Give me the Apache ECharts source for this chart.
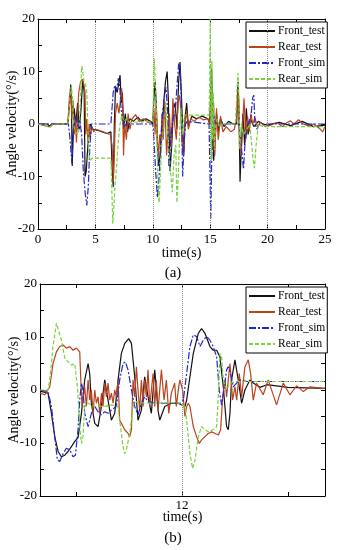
<!DOCTYPE html>
<html><head><meta charset="utf-8">
<script src="https://cdn.jsdelivr.net/npm/echarts@6/dist/echarts.min.js"></script>
<style>html,body{margin:0;padding:0;background:#fff}#c{width:347px;height:550px}</style>
</head><body><div id="c"></div>
<script>
// ---------- data (a): [time s, angle velocity deg/s] ----------
const frontTestA = [[0,0],[0.8,0],[1.0,-0.4],[1.2,0],[2.6,0],[2.75,4],[2.85,7.5],[2.92,3],[2.98,-8],[3.05,-3],[3.15,3],[3.3,0],[3.45,4],[3.6,-1],[3.75,3],[3.9,8.5],[4.02,6],[4.1,-10],[4.2,-9],[4.35,-4],[4.55,0],[4.8,-1],[5.2,-1.2],[5.6,-1.5],[6.0,-1.8],[6.35,-1.5],[6.45,-8],[6.55,-12],[6.65,0],[6.75,7],[6.9,6],[7.05,8],[7.15,9.3],[7.25,4],[7.35,6],[7.45,-1],[7.6,2],[7.8,-1.5],[8.0,1],[8.3,0.5],[8.7,1.3],[9.0,0.5],[9.4,1],[9.8,0.5],[10.0,0],[10.1,5],[10.2,8],[10.3,4],[10.4,-4],[10.5,-8],[10.65,-6],[10.8,-2],[10.95,4],[11.1,8],[11.25,10],[11.35,5],[11.5,-9],[11.65,-4],[11.8,3],[11.95,4],[12.1,-1],[12.25,8],[12.37,11.8],[12.5,5],[12.6,-1],[12.7,-6],[12.8,1],[12.95,4],[13.1,-0.5],[13.4,1.5],[13.8,1],[14.3,1.5],[14.8,1],[14.95,0],[15.05,6],[15.12,10.5],[15.2,3],[15.3,-7],[15.4,-4],[15.55,2],[15.7,-1.5],[15.9,1],[16.2,-0.5],[16.6,0.5],[17.0,0],[17.3,0],[17.42,8],[17.5,3],[17.6,-11],[17.7,-5],[17.85,2],[18.0,-4],[18.15,3],[18.3,-2],[18.5,1],[18.8,-0.5],[19.2,0.5],[19.6,0],[20,-0.2],[21,0.3],[22,-0.3],[23,0.5],[24,-0.5],[25,-0.2]];
const rearTestA = [[0,0],[0.9,-0.5],[1.1,-0.5],[1.3,0],[2.6,0],[2.75,5.5],[2.88,6.5],[2.95,1],[3.05,4.5],[3.15,-2],[3.25,1],[3.35,-3.5],[3.45,2],[3.55,6],[3.7,8],[3.85,8.5],[4.0,7.5],[4.1,6],[4.15,-2],[4.25,1],[4.35,-3.5],[4.45,0],[4.55,-2.5],[4.7,-0.5],[4.85,-1.5],[5.0,-1],[5.3,-1.2],[5.7,-1.5],[6.0,-1.8],[6.3,-2],[6.45,-4],[6.56,-11],[6.65,-6],[6.75,2],[6.9,4],[7.05,2],[7.2,5],[7.29,6.8],[7.38,3],[7.45,-6],[7.55,0],[7.7,-3],[7.85,2],[8.0,-1],[8.2,1],[8.5,1.8],[8.8,0.5],[9.2,1],[9.6,0.3],[10.0,0.5],[10.1,3],[10.2,-2],[10.3,4],[10.4,-3],[10.5,-6],[10.6,-2],[10.7,-4],[10.8,2],[10.9,-3],[11.05,4.3],[11.2,-6],[11.35,0],[11.45,2],[11.6,-4.6],[11.75,4.9],[11.9,0],[12.05,-3],[12.2,4],[12.3,5.5],[12.4,4],[12.55,-3.5],[12.65,-6],[12.8,0],[12.95,2.5],[13.1,-1],[13.3,1],[13.6,0.5],[14.0,1.3],[14.4,0.8],[14.8,1],[15.0,0],[15.1,7],[15.2,-5],[15.3,4],[15.4,-6],[15.55,3],[15.7,-3],[15.9,1.5],[16.1,-1.5],[16.4,-0.5],[16.8,-1.5],[17.1,-1],[17.3,1],[17.45,6.8],[17.55,-2],[17.7,-6],[17.85,1],[17.95,4.9],[18.1,-3],[18.25,1.5],[18.4,-1.5],[18.55,2],[18.7,0],[18.9,1.2],[19.1,-0.5],[19.4,0.3],[19.8,-0.5],[20.3,-0.2],[20.8,0.3],[21.3,-0.5],[21.7,0.3],[22.0,0.6],[22.3,0],[22.7,0.8],[23.1,0],[23.5,-0.3],[24.0,0],[24.5,-0.8],[24.8,-1.5],[25,-0.5]];
const frontSimA = [[0,0],[2.65,0],[2.75,-2],[2.85,-4.5],[2.95,-7.5],[3.05,-3],[3.2,0.5],[3.35,1.5],[3.5,-1],[3.65,0.5],[3.8,-2],[3.95,-9],[4.1,-13],[4.25,-15.5],[4.38,-12],[4.5,-5],[4.65,0],[6.35,0],[6.45,3],[6.55,6],[6.7,7.4],[6.85,6.5],[7.0,8.7],[7.1,8],[7.2,4],[7.35,0.5],[7.5,-0.5],[7.7,0],[10.0,0],[10.1,-3],[10.25,-9],[10.4,-14],[10.55,-10],[10.7,-3],[10.85,2],[11.0,5],[11.15,7],[11.3,2],[11.4,-8],[11.55,-3],[11.75,1],[11.95,2],[12.1,7],[12.25,11.5],[12.4,10],[12.5,3],[12.6,-10],[12.72,-4],[12.85,0],[13.0,0.5],[14.9,0],[14.97,-8],[15.05,-18],[15.12,-8],[15.2,0],[15.3,2],[15.45,0],[17.5,0],[17.65,-3],[17.9,-8.6],[18.05,-3],[18.3,0],[18.55,1.5],[18.7,5],[18.8,5.5],[18.9,0],[19.05,-1],[19.3,0],[25,0]];
const rearSimA = [[0,0],[0.9,-0.5],[1.1,-0.5],[1.3,0],[2.6,0],[2.7,2],[2.82,6.2],[2.9,7.1],[3.0,5],[3.1,0],[3.25,-1.5],[3.45,-2],[3.6,-1],[3.7,5],[3.8,11],[3.88,10.5],[4.0,8],[4.15,7.5],[4.25,6],[4.35,-1],[4.45,-6],[4.55,-7],[4.7,-6.5],[6.35,-6.5],[6.45,-14],[6.52,-19],[6.6,-16],[6.7,-12],[6.85,-8],[7.0,-3],[7.15,0],[7.3,1.7],[7.5,0.5],[7.7,1],[8.0,0.3],[10.0,0.5],[10.08,8],[10.12,12.5],[10.2,9],[10.3,3],[10.45,-11],[10.55,-15],[10.65,-10],[10.8,-3],[11.0,0],[11.15,4],[11.3,-2],[11.5,-8],[11.7,-13],[11.85,-6],[12.0,-4],[12.1,-15],[12.22,-10],[12.35,-1],[12.45,3],[12.6,-2],[12.75,1.7],[14.9,1.7],[14.95,8],[15.0,20],[15.05,5],[15.1,-7],[15.15,12],[15.2,-3],[15.27,6],[15.35,-5],[15.45,-1],[15.6,1],[15.8,-0.5],[16.0,0],[17.2,0],[17.32,6],[17.42,9.7],[17.5,5],[17.58,-4.8],[17.7,0],[17.9,-2],[18.2,-1],[18.45,0],[18.7,-6],[18.85,-8.4],[19.0,-4],[19.2,0],[19.6,-0.5],[25,-0.5]];

// ---------- data (b) ----------
const frontTestB = [[10.66,-0.2],[10.736,-0.6],[10.768,-4.4],[10.799,-8.8],[10.831,-11.6],[10.862,-12.6],[10.894,-12.3],[10.925,-11.6],[10.956,-10.7],[10.988,-9.7],[11.019,-9.0],[11.035,-9.1],[11.051,-4.4],[11.082,1.9],[11.114,5.0],[11.129,3.1],[11.145,-2.5],[11.177,-6.3],[11.208,-6.9],[11.24,-3.1],[11.271,1.9],[11.287,1.9],[11.302,-1.9],[11.334,-5.7],[11.365,-4.4],[11.397,1.9],[11.428,6.9],[11.46,8.8],[11.497,9.7],[11.523,8.8],[11.554,2.5],[11.585,-5.7],[11.617,-3.8],[11.648,2.5],[11.68,-1.3],[11.711,-4.4],[11.743,3.8],[11.774,-3.8],[11.79,-5.7],[11.837,-3.1],[11.9,-2.5],[11.963,-2.5],[11.981,-2.5],[12.028,-3.1],[12.044,-1.9],[12.075,2.5],[12.107,6.9],[12.154,10.7],[12.185,11.6],[12.217,10.7],[12.264,8.2],[12.295,7.5],[12.327,7.5],[12.358,6.3],[12.39,0.6],[12.421,-6.9],[12.437,-7.5],[12.453,-4.4],[12.468,1.9],[12.5,5.7],[12.531,1.9],[12.563,-2.5],[12.594,0],[12.641,1.9],[12.673,1.3],[12.736,0.5],[12.8,1],[13.0,0.5],[13.35,0.3]];
const rearTestB = [[10.66,-0.6],[10.705,-0.9],[10.752,0.6],[10.783,5.0],[10.815,7.2],[10.846,8.2],[10.878,8.5],[10.909,7.9],[10.941,8.2],[10.972,7.5],[11.004,7.9],[11.035,7.2],[11.045,1.9],[11.057,-3.1],[11.082,0.6],[11.098,-3.1],[11.114,1.9],[11.129,-1.9],[11.145,0],[11.161,-4.4],[11.177,0],[11.192,-2.5],[11.208,-1.3],[11.224,-4.4],[11.24,-0.6],[11.255,-3.1],[11.271,1.3],[11.287,-1.3],[11.302,1.3],[11.318,-1.9],[11.334,-0.6],[11.35,-2.5],[11.365,0],[11.381,-1.3],[11.397,1.9],[11.412,-5.7],[11.428,-6.3],[11.46,-7.5],[11.491,-8.2],[11.507,-8.8],[11.523,-7.5],[11.538,1.9],[11.554,-1.3],[11.57,4.4],[11.585,0],[11.601,-3.8],[11.617,1.9],[11.633,-3.1],[11.648,1.9],[11.664,-1.3],[11.68,3.8],[11.696,-3.1],[11.727,3.1],[11.743,-3.1],[11.758,1.9],[11.774,-3.8],[11.806,3.8],[11.831,-1.9],[11.853,1.9],[11.875,-4.4],[11.9,-0.6],[11.931,1.3],[11.947,-3.1],[11.969,0.6],[11.981,1.9],[12.006,0],[12.028,-5.0],[12.044,-3.1],[12.06,-2.5],[12.075,-3.1],[12.091,-5.0],[12.107,-6.9],[12.138,-8.8],[12.163,-10.1],[12.185,-9.4],[12.217,-8.8],[12.248,-8.2],[12.28,-7.9],[12.311,-8.2],[12.343,-8.5],[12.365,-7.5],[12.384,-1.3],[12.406,1.9],[12.421,-1.3],[12.437,1.9],[12.453,5.0],[12.478,-1.9],[12.5,0.6],[12.516,-1.9],[12.541,3.1],[12.563,-1.3],[12.594,4.4],[12.626,5.7],[12.648,3.1],[12.673,-1.9],[12.704,1.3],[12.767,-0.9],[12.814,1.9],[12.893,-2.8],[12.956,1.3],[13.019,-0.9],[13.082,0.8],[13.145,-0.3],[13.207,0.6],[13.333,0.3],[13.35,0.3]];
const frontSimB = [[10.66,0],[10.736,-0.3],[10.768,-3.1],[10.799,-8.8],[10.824,-13.2],[10.846,-13.5],[10.878,-12.0],[10.909,-11.0],[10.941,-11.3],[10.972,-12.6],[10.994,-12.3],[11.019,-7.5],[11.035,-1.9],[11.051,1.3],[11.066,0],[11.082,-4.4],[11.114,-6.9],[11.145,-4.4],[11.177,-3.1],[11.208,-4.1],[11.24,-4.7],[11.271,-4.1],[11.302,-4.4],[11.334,-3.8],[11.381,-3.1],[11.412,1.9],[11.444,5.0],[11.466,5.3],[11.491,3.8],[11.523,0],[11.554,-3.1],[11.585,-4.7],[11.617,-2.5],[11.648,-1.3],[11.68,-2.2],[11.774,-2.5],[11.9,-2.5],[11.981,-2.5],[12.013,-1.9],[12.044,3.1],[12.075,8.2],[12.107,10.4],[12.138,10.1],[12.17,8.2],[12.201,9.4],[12.233,10.1],[12.264,9.4],[12.295,8.2],[12.327,6.3],[12.352,0],[12.374,-2.8],[12.396,0],[12.421,3.8],[12.437,4.4],[12.459,3.1],[12.484,0.6],[12.516,1.3],[12.547,1.9],[12.61,1.6],[13.35,1.6]];
const rearSimB = [[10.66,0],[10.736,0],[10.752,1.9],[10.783,8.2],[10.815,12.6],[10.831,12.3],[10.862,9.4],[10.894,6.0],[10.925,5.3],[10.956,4.7],[10.988,5.0],[11.013,0.6],[11.035,-6.9],[11.051,-10.1],[11.066,-8.8],[11.082,-3.1],[11.114,-2.5],[11.177,-3.1],[11.271,-3.1],[11.334,-2.8],[11.397,-3.1],[11.412,-5.7],[11.444,-10.7],[11.46,-12.0],[11.475,-11.3],[11.507,-8.2],[11.538,-3.1],[11.57,-2.2],[11.648,-2.5],[11.9,-2.4],[11.981,-2.5],[12.028,-3.1],[12.044,-5.7],[12.075,-12.0],[12.1,-14.8],[12.123,-13.2],[12.154,-8.8],[12.185,-6.9],[12.217,-7.5],[12.248,-7.9],[12.295,-7.5],[12.327,-6.9],[12.343,-1.3],[12.358,6.9],[12.374,6.3],[12.39,1.9],[12.421,0],[12.453,1.3],[12.516,1.6],[13.35,1.6]];

// ---------- axes / labels ----------
const seriesNames = ['Front_test','Rear_test','Front_sim','Rear_sim'];
const xRangeA = [0, 25], xStepA = 2.5, xLabelStepA = 5;
const yRange = [-20, 20], yStep = 5, yLabelStep = 10;
const xRangeB = [10.66, 13.35];
const xTicksB = [11, 12, 13];
const xLabelsB = [12];
const dottedA = [5, 10, 15, 20];
const dottedB = [12];
const yName = 'Angle velocity(°/s)';
const xName = 'time(s)';
const panelTitles = ['(a)', '(b)'];

const FONT = 'Liberation Serif';
const colors = ['#111111', '#b8431d', '#2424d0', '#78d23c'];
const dashes = ['solid', 'solid', [7, 2, 2, 2], [4, 2]];

const grids = [
  {left: 38, right: 22, top: 19, height: 210, containLabel: false, outerBoundsMode: 'none'},
  {left: 40, right: 22, top: 284, height: 212, containLabel: false, outerBoundsMode: 'none'}
];

function frameAxisX(gi, rng, extra) {
  return Object.assign({
    type: 'value', gridIndex: gi, min: rng[0], max: rng[1],
    axisLine: {show: true, onZero: false, lineStyle: {color: '#000', width: 1}},
    axisTick: {show: true, inside: true, length: 4, lineStyle: {color: '#000'}},
    splitLine: {show: false},
    axisLabel: {show: false}
  }, extra);
}
function frameAxisY(gi, extra) {
  return Object.assign({
    type: 'value', gridIndex: gi, min: yRange[0], max: yRange[1], interval: yStep,
    axisLine: {show: true, onZero: false, lineStyle: {color: '#000', width: 1}},
    axisTick: {show: true, inside: true, length: 4, lineStyle: {color: '#000'}},
    splitLine: {show: false},
    axisLabel: {show: false}
  }, extra);
}
const yLabelCfg = {show: true, margin: 3, color: '#000', fontFamily: FONT, fontSize: 13,
  formatter: v => (v % yLabelStep === 0 ? String(v) : '')};
const yNameCfg = {name: yName, nameLocation: 'middle', nameGap: 19, nameMoveOverlap: false,
  nameTextStyle: {fontFamily: FONT, fontSize: 14, color: '#000'}};

const xAxis = [
  frameAxisX(0, xRangeA, {position: 'bottom', interval: xStepA,
    axisLabel: {show: true, margin: 4, color: '#000', fontFamily: FONT, fontSize: 13,
      formatter: v => (v % xLabelStepA === 0 ? String(v) : '')},
    name: xName, nameLocation: 'middle', nameGap: 17, nameMoveOverlap: false,
    nameTextStyle: {fontFamily: FONT, fontSize: 14, color: '#000'}}),
  frameAxisX(0, xRangeA, {position: 'top', interval: xStepA}),
  frameAxisX(1, xRangeB, {position: 'bottom',
    axisTick: {show: true, inside: true, length: 4, customValues: xTicksB, lineStyle: {color: '#000'}},
    axisLabel: {show: true, margin: 3, color: '#000', fontFamily: FONT, fontSize: 13, customValues: xLabelsB},
    name: xName, nameLocation: 'middle', nameGap: 14, nameMoveOverlap: false,
    nameTextStyle: {fontFamily: FONT, fontSize: 14, color: '#000'}}),
  frameAxisX(1, xRangeB, {position: 'top',
    axisTick: {show: true, inside: true, length: 4, customValues: xTicksB, lineStyle: {color: '#000'}}})
];
const yAxis = [
  frameAxisY(0, Object.assign({position: 'left', axisLabel: yLabelCfg}, yNameCfg)),
  frameAxisY(0, {position: 'right'}),
  frameAxisY(1, Object.assign({position: 'left', axisLabel: yLabelCfg}, yNameCfg)),
  frameAxisY(1, {position: 'right'})
];

function mkSeries(name, idx, data, xi, yi, dotted) {
  const s = {
    name: name, type: 'line', xAxisIndex: xi, yAxisIndex: yi, data: data,
    symbol: 'none', smooth: false, animation: false,
    itemStyle: {color: colors[idx]},
    lineStyle: {color: colors[idx], width: 1.2, type: dashes[idx]},
    z: 2 + idx
  };
  if (dotted) {
    s.markLine = {silent: true, symbol: 'none', label: {show: false}, animation: false,
      lineStyle: {type: 'dotted', color: '#888', width: 1},
      data: dotted.map(x => ({xAxis: x}))};
  }
  return s;
}
const dataA = [frontTestA, rearTestA, frontSimA, rearSimA];
const dataB = [frontTestB, rearTestB, frontSimB, rearSimB];
const series = [];
seriesNames.forEach((n, i) => series.push(mkSeries(n, i, dataA[i], 0, 0, i === 0 ? dottedA : null)));
seriesNames.forEach((n, i) => series.push(mkSeries(n, i, dataB[i], 2, 2, i === 0 ? dottedB : null)));

function mkLegend(top) {
  return {
    data: seriesNames, orient: 'vertical', left: 246, top: top,
    itemWidth: 26, itemHeight: 10, itemGap: 4, padding: [3, 2, 3, 2],
    backgroundColor: '#fff', borderColor: '#000', borderWidth: 1, borderRadius: 0,
    itemStyle: {opacity: 0},
    textStyle: {fontFamily: FONT, fontSize: 11.5, color: '#000', padding: [0, 0, 0, -2]},
    selectedMode: false
  };
}

const chart = echarts.init(document.getElementById('c'), null, {renderer: 'canvas'});
chart.setOption({
  backgroundColor: '#fff',
  animation: false,
  grid: grids,
  xAxis: xAxis,
  yAxis: yAxis,
  legend: [mkLegend(22), mkLegend(287)],
  title: [
    {text: panelTitles[0], left: 168, top: 261, textAlign: 'center',
      textStyle: {fontFamily: FONT, fontSize: 15, fontWeight: 'normal', color: '#000'}},
    {text: panelTitles[1], left: 168, top: 526, textAlign: 'center',
      textStyle: {fontFamily: FONT, fontSize: 15, fontWeight: 'normal', color: '#000'}}
  ],
  series: series
});
</script></body></html>
